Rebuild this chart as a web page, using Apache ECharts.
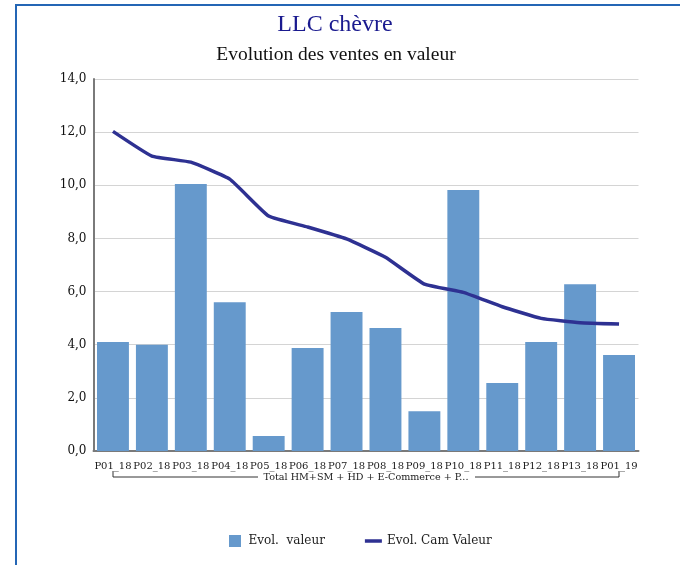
<!DOCTYPE html>
<html>
<head>
<meta charset="utf-8">
<script src="https://cdn.jsdelivr.net/npm/echarts@6/dist/echarts.min.js"></script>
<style>
  body { margin: 0; background: #fff; }
  #wrap { position: relative; width: 680px; height: 565px; }
  #chart { width: 680px; height: 565px; }
  #frame {
    position: absolute; left: 15px; top: 4px; right: 0; bottom: 0;
    border-top: 2px solid #2466b5; border-left: 2px solid #2466b5;
    pointer-events: none;
  }
</style>
</head>
<body>
<div id="wrap">
  <div id="chart"></div>
  <div id="frame"></div>
</div>
<script>
  // periodes
  var categories = ['P01_18', 'P02_18', 'P03_18', 'P04_18', 'P05_18', 'P06_18', 'P07_18',
    'P08_18', 'P09_18', 'P10_18', 'P11_18', 'P12_18', 'P13_18', 'P01_19'];
  var groupLabel = ['Total HM+SM + HD + E-Commerce + P...'];
  var evolValeur = [4.1, 4.0, 10.05, 5.6, 0.56, 3.88, 5.23, 4.63, 1.5, 9.82, 2.56, 4.1, 6.28, 3.61];
  var evolCamValeur = [12.03, 11.1, 10.87, 10.23, 8.84, 8.43, 7.98, 7.29, 6.28, 5.97, 5.43, 4.99, 4.83, 4.78];

  var serif = "'DejaVu Serif', serif";
  var myChart = echarts.init(document.getElementById('chart'));
  var option = {
    backgroundColor: '#fff',
    animation: false,
    title: [
      {
        text: 'LLC chèvre',
        left: 330, top: 8, textAlign: 'center',
        textStyle: { fontFamily: "'Liberation Serif', serif", fontSize: 24, fontWeight: 'normal', color: '#1a1a8f' }
      },
      {
        text: 'Evolution des ventes en valeur',
        left: 331, top: 40, textAlign: 'center',
        textStyle: { fontFamily: "'Liberation Serif', serif", fontSize: 19.5, fontWeight: 'normal', color: '#111' }
      }
    ],
    legend: {
      bottom: 13,
      left: 224,
      itemGap: 40,
      itemWidth: 17,
      itemHeight: 12,
      textStyle: { fontFamily: serif, fontSize: 12, color: '#222' },
      data: [
        { name: 'Evol.  valeur', icon: 'path://M0,0H12V12H0Z' },
        { name: 'Evol. Cam Valeur', icon: 'path://M0,0H17V3.5H0Z' }
      ]
    },
    grid: { left: 93.5, right: 41.5, top: 79, bottom: 114, containLabel: false },
    xAxis: [
      {
        type: 'category',
        data: categories,
        axisLine: { lineStyle: { color: '#7a7a7a', width: 2 } },
        axisTick: { show: false },
        axisLabel: { interval: 0, margin: 10, fontFamily: serif, fontSize: 10, color: '#1a1a1a' }
      },
      {
        type: 'category',
        data: groupLabel,
        position: 'bottom',
        offset: 13,
        axisLine: { show: false },
        axisTick: { show: false },
        axisLabel: { interval: 0, margin: 8, fontFamily: serif, fontSize: 9.6, color: '#1a1a1a' }
      }
    ],
    yAxis: {
      type: 'value',
      min: 0, max: 14, interval: 2,
      axisLine: { show: true, lineStyle: { color: '#7a7a7a', width: 2 } },
      axisTick: { show: false },
      splitLine: { lineStyle: { color: '#d4d4d4', width: 1 } },
      axisLabel: {
        margin: 7, fontFamily: serif, fontSize: 12, color: '#111',
        formatter: function (v) { return v.toFixed(1).replace('.', ','); }
      }
    },
    graphic: [
      { type: 'polyline', shape: { points: [[113, 471], [113, 477], [258, 477]] }, style: { stroke: '#333', lineWidth: 1, fill: null } },
      { type: 'polyline', shape: { points: [[475, 477], [619, 477], [619, 471]] }, style: { stroke: '#333', lineWidth: 1, fill: null } }
    ],
    series: [
      {
        name: 'Evol.  valeur',
        type: 'bar',
        xAxisIndex: 0,
        data: evolValeur,
        barCategoryGap: '18%',
        itemStyle: { color: '#6699cc' }
      },
      {
        name: 'Evol. Cam Valeur',
        type: 'line',
        xAxisIndex: 0,
        data: evolCamValeur,
        symbol: 'none',
        smooth: 0.12,
        lineStyle: { color: '#2e3192', width: 3.5 },
        itemStyle: { color: '#2e3192' }
      }
    ]
  };
  myChart.setOption(option, true);
</script>
</body>
</html>
